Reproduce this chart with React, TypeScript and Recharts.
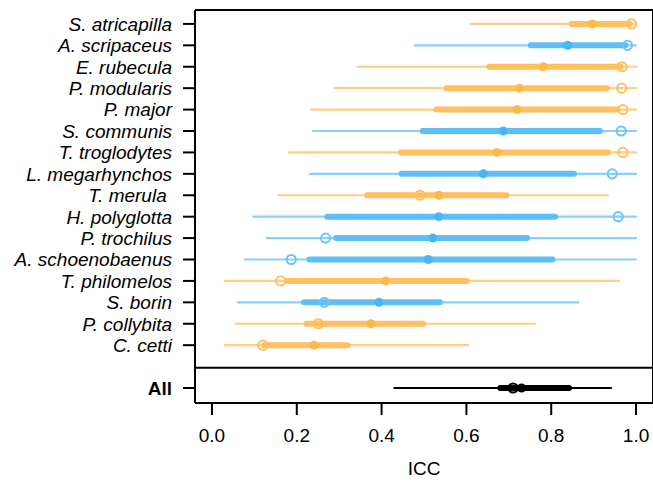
import React from "react";
import {
  ReferenceLine,
  Scatter,
  ScatterChart,
  XAxis,
  YAxis,
} from "recharts";

// species rows, top to bottom
const species = [
  "S. atricapilla",
  "A. scripaceus",
  "E. rubecula",
  "P. modularis",
  "P. major",
  "S. communis",
  "T. troglodytes",
  "L. megarhynchos",
  "T. merula\u00A0",
  "H. polyglotta",
  "P. trochilus",
  "A. schoenobaenus",
  "T. philomelos",
  "S. borin",
  "P. collybita",
  "C. cetti",
];
const group = ["o", "b", "o", "o", "o", "b", "o", "b", "o", "b", "b", "b", "o", "b", "o", "o"];

const lo95 = [0.611, 0.478, 0.343, 0.289, 0.234, 0.238, 0.182, 0.231, 0.157, 0.098, 0.129, 0.078, 0.03, 0.061, 0.056, 0.03];
const hi95 = [1.0, 1.0, 1.0, 1.0, 1.0, 1.0, 1.0, 1.0, 0.934, 1.0, 1.0, 1.0, 0.96, 0.864, 0.762, 0.604];
const lo50 = [0.848, 0.752, 0.654, 0.553, 0.53, 0.497, 0.446, 0.447, 0.366, 0.272, 0.293, 0.23, 0.176, 0.217, 0.223, 0.123];
const hi50 = [0.985, 0.975, 0.964, 0.931, 0.956, 0.915, 0.934, 0.854, 0.695, 0.809, 0.743, 0.803, 0.601, 0.537, 0.498, 0.32];
const median = [0.897, 0.839, 0.781, 0.725, 0.72, 0.687, 0.672, 0.64, 0.535, 0.535, 0.521, 0.51, 0.41, 0.394, 0.375, 0.241];
const estimate = [0.989, 0.98, 0.967, 0.966, 0.969, 0.965, 0.969, 0.944, 0.491, 0.958, 0.268, 0.187, 0.162, 0.265, 0.251, 0.12];

// pooled estimate
const allLabel = "All";
const allRow = 17;
const allLo95 = 0.43;
const allHi95 = 0.941;
const allLo50 = 0.68;
const allHi50 = 0.842;
const allMedian = 0.73;
const allEstimate = 0.71;

const xTicks = [0, 0.2, 0.4, 0.6, 0.8, 1.0];

const palette: Record<string, { thin: string; thick: string; dot: string; ring: string }> = {
  o: { thin: "#FFCD85", thick: "#FFC060", dot: "#FFB84A", ring: "#FFBF5E" },
  b: { thin: "#86CFFF", thick: "#5EBFF8", dot: "#4BB4F2", ring: "#6CC4FA" },
  k: { thin: "#000000", thick: "#000000", dot: "#000000", ring: "#000000" },
};

type Row = {
  y: number;
  name: string;
  g: string;
  lo95: number;
  hi95: number;
  lo50: number;
  hi50: number;
  median: number;
  estimate: number;
};

const rows: Row[] = species.map((name, i) => ({
  y: i,
  name,
  g: group[i],
  lo95: lo95[i],
  hi95: hi95[i],
  lo50: lo50[i],
  hi50: hi50[i],
  median: median[i],
  estimate: estimate[i],
}));
rows.push({
  y: allRow,
  name: allLabel,
  g: "k",
  lo95: allLo95,
  hi95: allHi95,
  lo50: allLo50,
  hi50: allHi50,
  median: allMedian,
  estimate: allEstimate,
});

const yTicks = rows.map((r) => r.y);
const labelByRow: Record<number, string> = {};
rows.forEach((r) => (labelByRow[r.y] = r.name));

const dots = rows.map((r) => ({ x: r.median, y: r.y, g: r.g }));
const rings = rows.map((r) => ({ x: r.estimate, y: r.y, g: r.g }));

const FONT = "'Liberation Sans', Arial, Helvetica, sans-serif";

function SpeciesTick(props: any) {
  const { x, y, payload } = props;
  const label = labelByRow[payload.value];
  const isAll = label === allLabel;
  return (
    <text
      x={x}
      y={y}
      dy="0.36em"
      textAnchor="end"
      fontFamily={FONT}
      fontSize={19}
      fontStyle={isAll ? "normal" : "italic"}
      fontWeight={isAll ? "bold" : "normal"}
      fill="#000"
    >
      {label}
    </text>
  );
}

function Dot(props: any) {
  const { cx, cy, payload } = props;
  return <circle cx={cx} cy={cy} r={4.5} fill={palette[payload.g].dot} />;
}

function Ring(props: any) {
  const { cx, cy, payload } = props;
  return (
    <circle cx={cx} cy={cy} r={4.6} fill="none" stroke={palette[payload.g].ring} strokeWidth={2} />
  );
}

export default function App() {
  return (
    <div style={{ position: "absolute", left: 0, top: 0, background: "#fff" }}>
      <ScatterChart
        width={653}
        height={483}
        margin={{ top: 10, right: 0, bottom: 0, left: 0 }}
      >
        <XAxis
          type="number"
          dataKey="x"
          domain={[-0.04, 1.04]}
          ticks={xTicks}
          tickFormatter={(v: number) => v.toFixed(1)}
          allowDataOverflow
          height={80}
          tickSize={12}
          tickMargin={14}
          axisLine={{ stroke: "#000", strokeWidth: 2 }}
          tickLine={{ stroke: "#000", strokeWidth: 2 }}
          tick={{ fill: "#000", fontSize: 19, fontFamily: FONT }}
          label={{
            value: "ICC",
            position: "insideBottom",
            offset: 8,
            fill: "#000",
            fontSize: 19,
            fontFamily: FONT,
          }}
        />
        <YAxis
          type="number"
          dataKey="y"
          domain={[-0.65, 17.7]}
          reversed
          allowDataOverflow
          ticks={yTicks}
          interval={0}
          width={195}
          tickSize={12}
          tickMargin={11}
          axisLine={{ stroke: "#000", strokeWidth: 2 }}
          tickLine={{ stroke: "#000", strokeWidth: 2 }}
          tick={<SpeciesTick />}
        />
        {/* frame: top, right, panel divider */}
        <ReferenceLine y={-0.65} stroke="#000" strokeWidth={2} ifOverflow="visible" />
        <ReferenceLine x={1.04} stroke="#000" strokeWidth={2} ifOverflow="visible" />
        <ReferenceLine y={16.05} stroke="#000" strokeWidth={2} />
        {rows.map((r) => (
          <ReferenceLine
            key={`t${r.y}`}
            segment={[
              { x: r.lo95, y: r.y },
              { x: r.hi95, y: r.y },
            ]}
            stroke={palette[r.g].thin}
            strokeWidth={2.2}
            strokeLinecap="round"
          />
        ))}
        {rows.map((r) => (
          <ReferenceLine
            key={`w${r.y}`}
            segment={[
              { x: r.lo50, y: r.y },
              { x: r.hi50, y: r.y },
            ]}
            stroke={palette[r.g].thick}
            strokeWidth={6}
            strokeLinecap="round"
          />
        ))}
        <Scatter data={dots} shape={<Dot />} isAnimationActive={false} />
        <Scatter data={rings} shape={<Ring />} isAnimationActive={false} />
      </ScatterChart>
    </div>
  );
}
